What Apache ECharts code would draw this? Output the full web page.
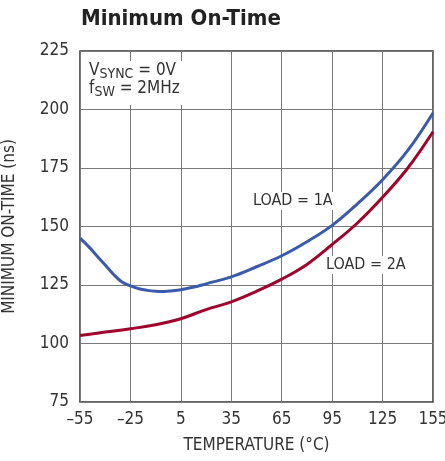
<!DOCTYPE html>
<html>
<head>
<meta charset="utf-8">
<script src="https://cdn.jsdelivr.net/npm/echarts@6/dist/echarts.min.js"></script>
<style>
  html, body { margin: 0; padding: 0; background: #fff; }
  #chart { width: 445px; height: 461px; }
</style>
</head>
<body>
<div id="chart"></div>
<script>
// temperature (°C) and minimum on-time (ns)
const temp1A = [-55, -50, -45, -40, -35, -30, -25, -20, -15, -10, -5, 0, 5, 15, 20, 35, 50, 65, 80, 95, 110, 125, 140, 155];
const load1A = [145, 141.5, 137.5, 133.5, 129.5, 126.3, 124.6, 123.4, 122.7, 122.3, 122.2, 122.5, 123, 124.5, 125.5, 128.5, 132.8, 137.5, 143.5, 150.5, 159.7, 170, 182.5, 198.5];
const temp2A = [-55, -40, -25, -10, 5, 20, 35, 50, 65, 80, 95, 110, 125, 140, 155];
const load2A = [103.4, 104.9, 106.3, 108, 110.6, 114.5, 117.8, 122.3, 127.5, 133.8, 142.3, 151.5, 162.5, 175, 190.5];
const xTicks = [-55, -25, 5, 35, 65, 95, 125, 155];
const yTicks = [75, 100, 125, 150, 175, 200, 225];

// x axis runs from -55, so shift by 55 to keep ticks on multiples of 30
const X0 = xTicks[0];
const font = "'Liberation Sans Narrow', 'DejaVu Sans Condensed', 'Roboto Condensed', sans-serif";

const chart = echarts.init(document.getElementById('chart'));
chart.setOption({
  backgroundColor: '#fff',
  animation: false,
  textStyle: { fontFamily: font },
  title: {
    text: 'Minimum On-Time',
    left: 76, top: 3,
    textStyle: { fontSize: 22, fontWeight: 'bold', color: '#222', fontFamily: font }
  },
  grid: {
    left: 80, right: 12, top: 51, bottom: 59,
    outerBoundsMode: 'none', containLabel: false,
    show: true, borderColor: '#333', borderWidth: 1.5, backgroundColor: 'transparent'
  },
  xAxis: {
    type: 'value',
    min: 0, max: xTicks[xTicks.length - 1] - X0, interval: 30,
    name: 'TEMPERATURE (°C)', nameLocation: 'middle', nameGap: 35,
    nameTextStyle: { fontSize: 17, color: '#333' },
    axisLine: { show: false },
    axisTick: { show: false },
    axisLabel: {
      fontSize: 17, color: '#333', margin: 9,
      formatter: v => { const t = v + X0; return t < 0 ? '\u2013' + (-t) : String(t); }
    },
    splitLine: { lineStyle: { color: '#7a7a7a', width: 1 } }
  },
  yAxis: {
    type: 'value',
    min: yTicks[0], max: yTicks[yTicks.length - 1], interval: 25,
    name: 'MINIMUM ON-TIME (ns)', nameLocation: 'middle', nameGap: 62,
    nameTextStyle: { fontSize: 17, color: '#333' },
    axisLine: { show: false },
    axisTick: { show: false },
    axisLabel: { fontSize: 17, color: '#333', margin: 11 },
    splitLine: { lineStyle: { color: '#7a7a7a', width: 1 } }
  },
  series: [
    {
      name: 'LOAD = 1A', type: 'line', smooth: 0.4, symbol: 'none',
      lineStyle: { color: '#3a5aab', width: 3 },
      data: temp1A.map((t, i) => [t - X0, load1A[i]]),
      z: 3
    },
    {
      name: 'LOAD = 2A', type: 'line', smooth: 0.4, symbol: 'none',
      lineStyle: { color: '#a0042c', width: 3 },
      data: temp2A.map((t, i) => [t - X0, load2A[i]]),
      z: 2
    }
  ],
  graphic: [
    {
      type: 'rect', shape: { x: 81, y: 61, width: 102, height: 44 },
      style: { fill: '#fff' }, z: 10
    },
    {
      type: 'text', left: 89, top: 62, z: 11,
      style: {
        text: 'V{s|SYNC} = 0V\nf{s|SW} = 2MHz',
        font: '17px ' + font, fill: '#333', lineHeight: 18,
        rich: { s: { fontSize: 14, fontFamily: font, fill: '#333', padding: [6, 0, 0, 0] } }
      }
    },
    {
      type: 'text', left: 251, top: 192, z: 11,
      style: { text: 'LOAD = 1A', font: '16px ' + font, fill: '#333', backgroundColor: '#fff', padding: [1, 2] }
    },
    {
      type: 'text', left: 324, top: 256, z: 11,
      style: { text: 'LOAD = 2A', font: '16px ' + font, fill: '#333', backgroundColor: '#fff', padding: [1, 2] }
    }
  ]
});
</script>
</body>
</html>
